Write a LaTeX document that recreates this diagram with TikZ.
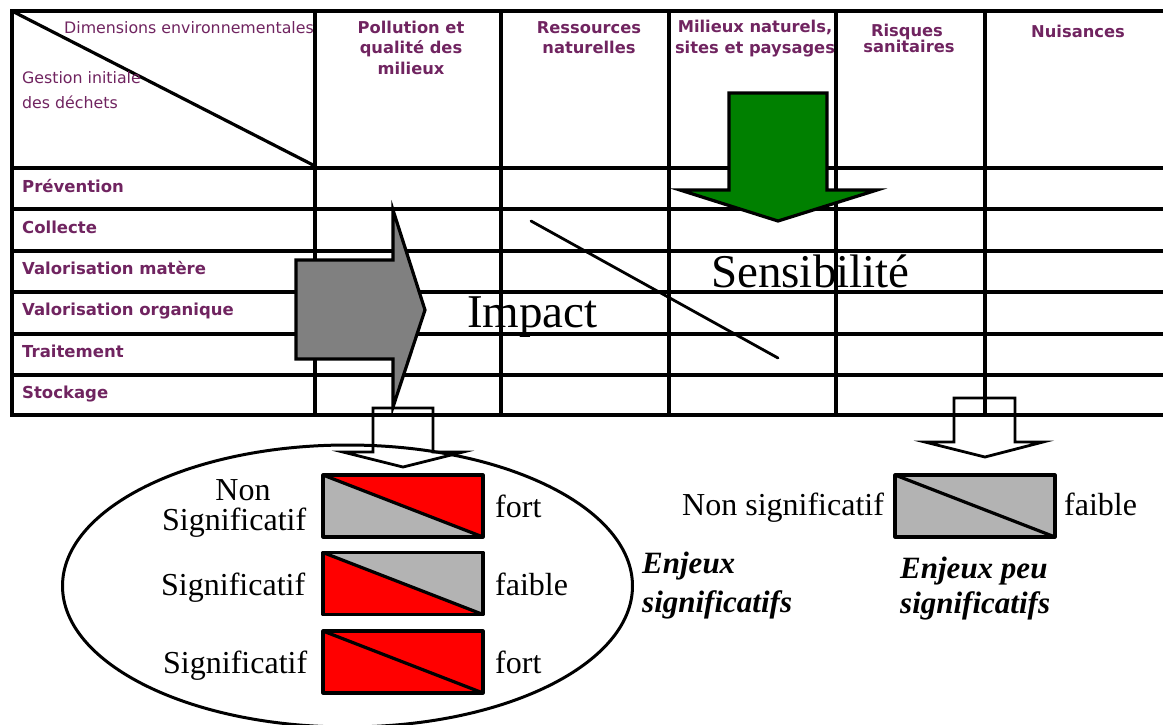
\documentclass[tikz,border=0pt]{standalone}
\usepackage{fontspec}
\setmainfont{Liberation Serif}
\newfontfamily\vfont{DejaVu Sans}
\usetikzlibrary{shapes.geometric}
\definecolor{txtpurple}{RGB}{112,36,96}
\definecolor{boxgray}{RGB}{179,179,179}
\definecolor{arrgray}{RGB}{128,128,128}
\definecolor{arrgreen}{RGB}{0,128,0}
\definecolor{boxred}{RGB}{255,0,0}
\tikzset{
  gridline/.style={line width=3.5pt, line cap=rect},
  hdrb/.style={font={\vfont\bfseries\fontsize{16.3}{19}\selectfont}, text=txtpurple, inner sep=0pt, anchor=base},
  hdrr/.style={font={\vfont\fontsize{15.8}{19}\selectfont}, text=txtpurple, inner sep=0pt, anchor=base west},
  rowlab/.style={font={\vfont\bfseries\fontsize{16.5}{19}\selectfont}, text=txtpurple, inner sep=0pt, anchor=base west},
  biglab/.style={font={\fontsize{47}{50}\selectfont}, inner sep=0pt, anchor=base west},
  lab/.style={font={\fontsize{32}{28}\selectfont}, inner sep=0pt, anchor=base west},
  enj/.style={font={\bfseries\itshape\fontsize{31}{28}\selectfont}, inner sep=0pt, anchor=base west},
  sbox/.style={minimum width=160pt, minimum height=62pt, inner sep=0pt, outer sep=0pt},
  boxline/.style={line width=3.2pt, line join=round},
  blockarrow/.style={line width=3.2pt, line join=miter},
  hollowarrow/.style={line width=2.8pt, line join=miter},
}
\begin{document}
\begin{tikzpicture}[x=1pt,y=-1pt]
\useasboundingbox (0,0) rectangle (1163,724);

% grid
\foreach \yy in {11,168,209,251,292,334,375,415}
  \draw[gridline] (12,\yy) -- (1163,\yy);
\foreach \xx in {12,315,501,669,836,985}
  \draw[gridline] (\xx,11) -- (\xx,415);
\draw[line width=3.2pt] (12,11) -- (315,166);

% header texts
\node[hdrr] (dimenv) at (64,33) {Dimensions environnementales};
\node[hdrr] (gest1) at (22,83) {Gestion initiale};
\node[hdrr] (gest2) at (22,108) {des déchets};

\node[hdrb] (c1a) at (411,33) {Pollution et};
\node[hdrb] (c1b) at (411,53) {qualité des};
\node[hdrb] (c1c) at (411,74) {milieux};
\node[hdrb] (c2a) at (589,33) {Ressources};
\node[hdrb] (c2b) at (589,53) {naturelles};
\node[hdrb] (c3a) at (755,32) {Milieux naturels,};
\node[hdrb] (c3b) at (755,53) {sites et paysages};
\node[hdrb] (c4a) at (907,36) {Risques};
\node[hdrb] (c4b) at (909,52) {sanitaires};
\node[hdrb] (c5a) at (1078,37) {Nuisances};

% row labels
\node[rowlab] (r1) at (22,192) {Prévention};
\node[rowlab] (r2) at (22,233) {Collecte};
\node[rowlab] (r3) at (22,274) {Valorisation matère};
\node[rowlab] (r4) at (22,315) {Valorisation organique};
\node[rowlab] (r5) at (22,357) {Traitement};
\node[rowlab] (r6) at (22,398) {Stockage};

% diagonal line
\draw[line width=2.8pt, line cap=round] (531,221) -- (778,358);

% gray arrow (impact)
\draw[blockarrow, fill=arrgray] (296,260) -- (393,260) -- (393,210) -- (425,310) -- (393,407) -- (393,359) -- (296,359) -- cycle;

% green arrow (sensibilite)
\draw[blockarrow, fill=arrgreen] (729,93) -- (827,93) -- (827,190) -- (877,190) -- (778,221) -- (680,190) -- (729,190) -- cycle;

\node[biglab] (impact) at (467,327) {Impact};
\node[biglab] (sensib) at (711,287) {Sensibilité};

% hollow arrows
\draw[hollowarrow] (373,408) -- (433,408) -- (433,452) -- (463,452) -- (403,467) -- (343,452) -- (373,452) -- cycle;
\draw[hollowarrow] (954,398) -- (1015,398) -- (1015,442) -- (1043,442) -- (985,457) -- (925,442) -- (954,442) -- cycle;

% ellipse
\node[ellipse, draw, line width=3pt, minimum width=570pt, minimum height=282pt, inner sep=0pt] (ell) at (347.5,586) {};

% boxes
\node[sbox] (b1) at (403,506) {};
\node[sbox] (b2) at (403,583.5) {};
\node[sbox] (b3) at (403,662) {};
\node[sbox] (b4) at (975,506) {};

\fill[boxred] (b1.north west) -- (b1.north east) -- (b1.south east) -- cycle;
\fill[boxgray] (b1.north west) -- (b1.south west) -- (b1.south east) -- cycle;
\fill[boxgray] (b2.north west) -- (b2.north east) -- (b2.south east) -- cycle;
\fill[boxred] (b2.north west) -- (b2.south west) -- (b2.south east) -- cycle;
\fill[boxred] (b3.north west) rectangle (b3.south east);
\fill[boxgray] (b4.north west) rectangle (b4.south east);
\foreach \b in {b1,b2,b3,b4}{
  \draw[boxline] (\b.north west) rectangle (\b.south east);
  \draw[boxline] (\b.north west) -- (\b.south east);
}

% labels
\node[lab, anchor=base] (non1) at (243,500) {Non};
\node[lab] (sig1) at (162,530) {Significatif};
\node[lab] (sig2) at (161,595) {Significatif};
\node[lab] (sig3) at (163,673) {Significatif};
\node[lab] (fort1) at (495,517) {fort};
\node[lab] (faib1) at (495,595) {faible};
\node[lab] (fort2) at (495,673) {fort};
\node[enj] (enj1) at (642,573) {Enjeux};
\node[enj] (enj2) at (642,612) {significatifs};
\node[lab] (nonsig) at (682,515) {Non significatif};
\node[lab] (faib2) at (1064,515) {faible};
\node[enj] (enj3) at (900,578) {Enjeux peu};
\node[enj] (enj4) at (900,613) {significatifs};
\end{tikzpicture}
\end{document}
